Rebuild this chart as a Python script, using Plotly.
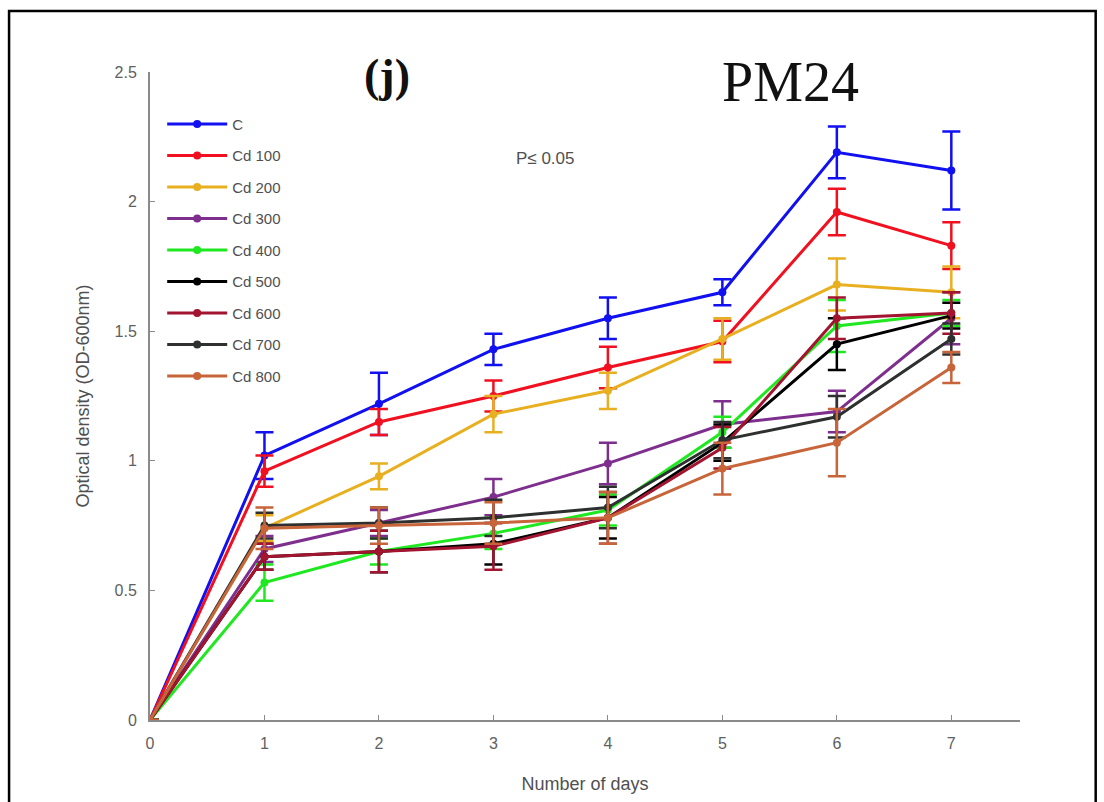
import plotly.graph_objects as go

# Growth curves of isolate PM24 under increasing cadmium concentrations
days = [0, 1, 2, 3, 4, 5, 6, 7]

series_names = ["C", "Cd 100", "Cd 200", "Cd 300", "Cd 400",
                "Cd 500", "Cd 600", "Cd 700", "Cd 800"]

od_c     = [0, 1.02, 1.22, 1.43, 1.55, 1.65, 2.19, 2.12]
od_cd100 = [0, 0.96, 1.15, 1.25, 1.36, 1.46, 1.96, 1.83]
od_cd200 = [0, 0.74, 0.94, 1.18, 1.27, 1.47, 1.68, 1.65]
od_cd300 = [0, 0.66, 0.76, 0.86, 0.99, 1.14, 1.19, 1.55]
od_cd400 = [0, 0.53, 0.65, 0.72, 0.81, 1.11, 1.52, 1.57]
od_cd500 = [0, 0.63, 0.65, 0.68, 0.78, 1.07, 1.45, 1.56]
od_cd600 = [0, 0.63, 0.65, 0.67, 0.78, 1.05, 1.55, 1.57]
od_cd700 = [0, 0.75, 0.76, 0.78, 0.82, 1.08, 1.17, 1.47]
od_cd800 = [0, 0.74, 0.75, 0.76, 0.78, 0.97, 1.07, 1.36]

err_c     = [0, 0.09, 0.12, 0.06, 0.08, 0.05, 0.10, 0.15]
err_cd100 = [0, 0.06, 0.05, 0.06, 0.08, 0.08, 0.09, 0.09]
err_cd200 = [0, 0.05, 0.05, 0.07, 0.07, 0.08, 0.10, 0.10]
err_cd300 = [0, 0.05, 0.05, 0.07, 0.08, 0.09, 0.08, 0.10]
err_cd400 = [0, 0.07, 0.05, 0.06, 0.06, 0.06, 0.10, 0.05]
err_cd500 = [0, 0.05, 0.08, 0.08, 0.08, 0.07, 0.10, 0.05]
err_cd600 = [0, 0.05, 0.08, 0.09, 0.10, 0.08, 0.08, 0.08]
err_cd700 = [0, 0.05, 0.06, 0.07, 0.08, 0.07, 0.08, 0.06]
err_cd800 = [0, 0.08, 0.07, 0.08, 0.10, 0.10, 0.13, 0.06]

series_values = [od_c, od_cd100, od_cd200, od_cd300, od_cd400,
                 od_cd500, od_cd600, od_cd700, od_cd800]
series_errors = [err_c, err_cd100, err_cd200, err_cd300, err_cd400,
                 err_cd500, err_cd600, err_cd700, err_cd800]
series_colors = ["#1010f0", "#f01020", "#e8b020", "#7e2f8e", "#20e820",
                 "#000000", "#a2142f", "#2e3030", "#c8643a"]

x_ticks = [0, 1, 2, 3, 4, 5, 6, 7]
y_ticks = [0, 0.5, 1, 1.5, 2, 2.5]
y_tick_text = ["0", "0.5", "1", "1.5", "2", "2.5"]

fig = go.Figure()
for name, vals, errs, col in zip(series_names, series_values,
                                  series_errors, series_colors):
    fig.add_trace(go.Scatter(
        x=days, y=vals, name=name, legendgroup=name,
        mode="lines+markers",
        line=dict(color=col, width=3),
        marker=dict(color=col, size=8, symbol="circle"),
        error_y=dict(type="data", array=errs, visible=True,
                     color=col, thickness=2.5, width=9),
    ))

axis_grey = "#8a8a8a"
sans = "Liberation Sans, Arial, sans-serif"
tick_font = dict(family=sans, size=16, color="#606060")
title_font = dict(family=sans, size=18, color="#505050")

fig.update_layout(
    width=1104, height=802,
    margin=dict(l=150, r=84, t=72, b=82),
    paper_bgcolor="white", plot_bgcolor="white",
    showlegend=True,
    legend=dict(
        x=0.014, y=0.945, xanchor="left", yanchor="top",
        bgcolor="rgba(0,0,0,0)", borderwidth=0,
        font=dict(family=sans, size=15, color="#505050"),
        tracegroupgap=9, itemwidth=60,
    ),
    xaxis=dict(
        range=[0, 7.6], tickvals=x_ticks, ticktext=[str(t) for t in x_ticks],
        showgrid=False, zeroline=False,
        showline=True, linecolor=axis_grey, linewidth=2,
        ticks="inside", ticklen=5, tickcolor=axis_grey,
        tickfont=tick_font, ticklabelstandoff=8,
        title=dict(text="Number of days", standoff=26, font=title_font),
    ),
    yaxis=dict(
        range=[0, 2.5], tickvals=y_ticks, ticktext=y_tick_text,
        showgrid=False, zeroline=False,
        showline=True, linecolor=axis_grey, linewidth=2,
        ticks="inside", ticklen=5, tickcolor=axis_grey,
        tickfont=tick_font, ticklabelstandoff=8,
        title=dict(text="Optical density (OD-600nm)", standoff=20, font=title_font),
    ),
)

fig.add_annotation(
    x=0.272, y=0.995, xref="paper", yref="paper", showarrow=False,
    text="<b>(j)</b>", xanchor="center", yanchor="middle",
    font=dict(family="Liberation Serif, Times New Roman, serif", size=46, color="#111111"),
)
fig.add_annotation(
    x=0.736, y=0.985, xref="paper", yref="paper", showarrow=False,
    text="PM24", xanchor="center", yanchor="middle",
    font=dict(family="Liberation Serif, Times New Roman, serif", size=56, color="#111111"),
)
fig.add_annotation(
    x=0.454, y=0.867, xref="paper", yref="paper", showarrow=False,
    text="P\u2264 0.05", xanchor="center", yanchor="middle",
    font=dict(family=sans, size=17, color="#505050"),
)

# Outer frame around the figure (left, top and right edges)
fig.add_shape(
    type="path", xref="paper", yref="paper",
    path="M -0.162 -0.13 L -0.162 1.094 L 1.087 1.094 L 1.087 -0.13",
    line=dict(color="#000000", width=2.5),
)

fig.write_html("out.html")
